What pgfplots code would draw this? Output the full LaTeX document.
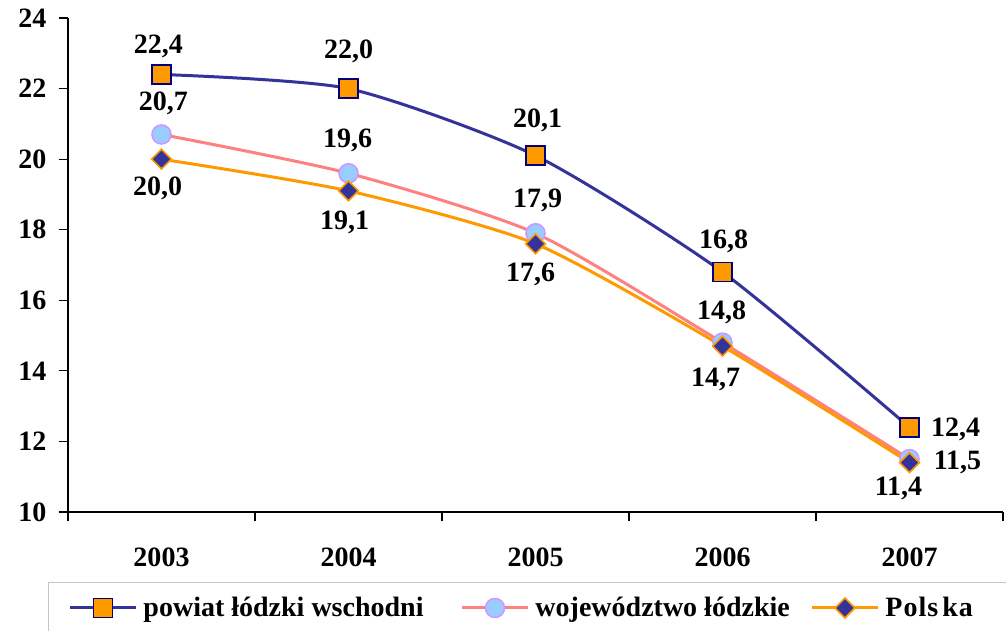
\documentclass[border=0pt]{standalone}
\usepackage{fontspec}
\setmainfont{Liberation Serif}
\usepackage{pgfplots}
\usepackage{pgfplotstable}
\pgfplotsset{compat=1.18}
\definecolor{navyline}{HTML}{333399}
\definecolor{navyedge}{HTML}{000080}
\definecolor{xlorange}{HTML}{FF9900}
\definecolor{xlpink}{HTML}{FF8080}
\definecolor{xllblue}{HTML}{99CCFF}
\definecolor{xllav}{HTML}{CC99FF}
\newcommand\lab{\fontsize{28}{30}\selectfont\bfseries}

\pgfplotstableread{
x y lab dx dy
0 22.4 22,4 -3 28
1 22.0 22,0 0 37
2 20.1 20,1 2 35
3 16.8 16,8 1 31
4 12.4 12,4 46 -2
}\powiat
\pgfplotstableread{
x y lab dx dy
0 20.7 20,7 2 31
1 19.6 19,6 -1 33
2 17.9 17,9 2 33
3 14.8 14,8 -1 30
4 11.5 11,5 48 -3
}\woj
\pgfplotstableread{
x y lab dx dy
0 20.0 20,0 -4 -29
1 19.1 19,1 -4 -31
2 17.6 17,6 -5 -31
3 14.7 14,7 -7 -33
4 11.4 11,4 -11 -26
}\polska

\begin{document}
\begin{tikzpicture}
\begin{axis}[
  scale only axis, width=935pt, height=494pt,
  xmin=-0.5, xmax=4.5, ymin=10, ymax=24,
  axis x line*=bottom, axis y line*=left,
  axis line style={-, line width=1.4pt, black},
  ytick={10,12,...,24},
  xtick={-0.5,0.5,...,4.5},
  xticklabels={2003,2004,2005,2006,2007},
  x tick label as interval,
  tick align=outside,
  major tick length=9pt,
  tick style={black, line width=1.2pt},
  ticklabel style={font=\lab},
  yticklabel style={xshift=-9pt},
  xticklabel style={yshift=-23pt},
  /pgf/number format/assume math mode=true,
  clip=false,
  point meta=explicit symbolic,
  nodes near coords,
  visualization depends on={\thisrow{dx}\as\lbx},
  visualization depends on={\thisrow{dy}\as\lby},
  every node near coord/.append style={font=\lab, text=black, anchor=center, xshift=\lbx*1pt, yshift=\lby*1pt},
  legend columns=3,
  legend style={at={(-0.0214,-0.1417)}, anchor=north west, draw=gray!45, line width=1pt,
    font=\lab, inner xsep=20pt, inner ysep=13pt,
    nodes={inner xsep=0pt},
    /tikz/every even column/.append style={column sep=15pt},
    /tikz/every odd column/.append style={column sep=6pt}},
  legend image code/.code={\draw[mark repeat=2,mark phase=2] plot coordinates {(0pt,0pt) (33pt,0pt) (66pt,0pt)};},
]
\addplot[navyline, line width=3pt, smooth, tension=0.4, mark=square*, mark size=9.5pt,
  mark options={fill=xlorange, draw=navyedge, line width=1.6pt, solid}]
  table[x=x, y=y, meta=lab] {\powiat};
\addlegendentry{\makebox[302pt][l]{powiat łódzki wschodni}}
\addplot[xlpink, line width=3pt, smooth, tension=0.4, mark=*, mark size=9.5pt,
  mark options={fill=xllblue, draw=xllav, line width=1.6pt, solid}]
  table[x=x, y=y, meta=lab] {\woj};
\addlegendentry{\makebox[260pt][l]{województwo łódzkie}}
\addplot[xlorange, line width=3pt, smooth, tension=0.4, mark=square*, mark size=7pt,
  mark options={fill=navyline, draw=xlorange, line width=1.6pt, rotate=45, solid}]
  table[x=x, y=y, meta=lab] {\polska};
\addlegendentry{\makebox[110pt][l]{P\hspace{1pt}o\hspace{1pt}l\hspace{1pt}s\hspace{4pt}k\hspace{1pt}a}}
\end{axis}
\pgfresetboundingbox
\path ([shift={(-68pt,-118pt)}]current axis.south west) rectangle ([shift={(3pt,18pt)}]current axis.north east);
\end{tikzpicture}
\end{document}
